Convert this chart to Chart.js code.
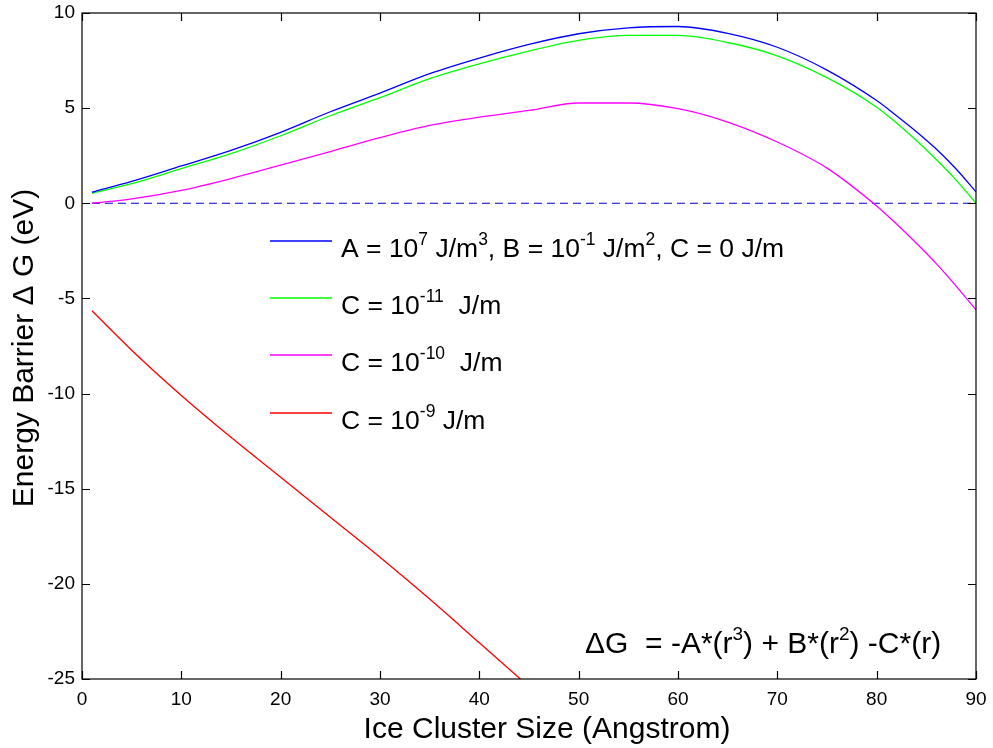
<!DOCTYPE html>
<html>
<head>
<meta charset="utf-8">
<script src="https://cdn.jsdelivr.net/npm/chart.js@4"></script>
<style>
  html, body { margin: 0; padding: 0; background: #fff; }
  #wrap { width: 993px; height: 748px; }
</style>
</head>
<body>
<div id="wrap"><canvas id="barrierChart" width="993" height="748"></canvas></div>
<script>
// values
var xValues       = [1, 5, 10, 15, 20, 25, 30, 35, 40, 45, 50, 55, 60, 65, 70, 75, 80, 82, 84, 86, 88, 90];
var blueValues    = [0.58, 1.15, 1.96, 2.78, 3.73, 4.81, 5.79, 6.81, 7.63, 8.35, 8.91, 9.22, 9.29, 8.93, 8.2, 7.0, 5.4, 4.6, 3.76, 2.85, 1.8, 0.6];
var greenValues   = [0.52, 1.03, 1.82, 2.61, 3.55, 4.6, 5.55, 6.55, 7.33, 8.0, 8.56, 8.82, 8.82, 8.45, 7.75, 6.6, 5.05, 4.22, 3.3, 2.3, 1.22, 0];
var magentaValues = [0.0, 0.23, 0.68, 1.3, 2.0, 2.72, 3.45, 4.09, 4.53, 4.88, 5.27, 5.27, 4.97, 4.27, 3.22, 1.85, -0.14, -1.09, -2.1, -3.17, -4.35, -5.6];
var redX          = [1, 5, 10, 15, 20, 25, 30, 35, 40, 45];
var redValues     = [-5.65, -7.72, -10.1, -12.3, -14.4, -16.5, -18.6, -20.8, -23.1, -25.4];
var zeroX         = [1, 90];
var zeroValues    = [0, 0];

var xTicks = [0, 10, 20, 30, 40, 50, 60, 70, 80, 90];
var yTicks = [-25, -20, -15, -10, -5, 0, 5, 10];

var xTitle = 'Ice Cluster Size (Angstrom)';
var yTitle = 'Energy Barrier \u0394 G (eV)';

// legend text, [text, isSuperscript]
var legendBlue    = [['A = 10', 0], ['7', 1], [' J/m', 0], ['3', 1], [', B = 10', 0], ['-1', 1], [' J/m', 0], ['2', 1], [', C = 0 J/m', 0]];
var legendGreen   = [['C = 10', 0], ['-11', 1], ['  J/m', 0]];
var legendMagenta = [['C = 10', 0], ['-10', 1], ['  J/m', 0]];
var legendRed     = [['C = 10', 0], ['-9', 1], [' J/m', 0]];
var formulaText   = [['\u0394G  = -A*(r', 0], ['3', 1], [') + B*(r', 0], ['2', 1], [') -C*(r)', 0]];

var FONT = '"Liberation Sans", Arial, Helvetica, sans-serif';

function pts(xs, ys) {
    var out = [];
    for (let i = 0; i < xs.length; i++) out.push({x: xs[i], y: ys[i]});
    return out;
}

function drawRich(ctx, parts, x, y, size, supSize) {
    ctx.textAlign = 'left';
    ctx.textBaseline = 'alphabetic';
    for (let i = 0; i < parts.length; i++) {
        var sup = parts[i][1];
        ctx.font = (sup ? supSize : size) + 'px ' + FONT;
        ctx.fillText(parts[i][0], x, sup ? y - size * 0.42 : y);
        x += ctx.measureText(parts[i][0]).width;
    }
}

var decorPlugin = {
    id: 'decor',
    afterDraw: function(chart) {
        var ctx = chart.ctx;
        var a = chart.chartArea;
        var xs = chart.scales.x, ys = chart.scales.y;
        ctx.save();
        ctx.strokeStyle = '#000';
        ctx.lineWidth = 1.2;
        ctx.strokeRect(a.left, a.top, a.right - a.left, a.bottom - a.top);
        // inward ticks like matlab
        ctx.beginPath();
        xTicks.forEach(function(v) {
            var px = Math.round(xs.getPixelForValue(v)) + 0.5;
            ctx.moveTo(px, a.bottom); ctx.lineTo(px, a.bottom - 8);
            ctx.moveTo(px, a.top); ctx.lineTo(px, a.top + 8);
        });
        yTicks.forEach(function(v) {
            var py = Math.round(ys.getPixelForValue(v)) + 0.5;
            ctx.moveTo(a.left, py); ctx.lineTo(a.left + 8, py);
            ctx.moveTo(a.right, py); ctx.lineTo(a.right - 8, py);
        });
        ctx.stroke();

        // legend
        var rows = [legendBlue, legendGreen, legendMagenta, legendRed];
        var rowY = [241, 298, 355, 413];
        ctx.fillStyle = '#000';
        for (let i = 0; i < rows.length; i++) {
            ctx.strokeStyle = chart.data.datasets[i].borderColor;
            ctx.lineWidth = 1.3;
            ctx.beginPath();
            ctx.moveTo(270, rowY[i]); ctx.lineTo(332, rowY[i]);
            ctx.stroke();
            drawRich(ctx, rows[i], 341, rowY[i] + 15.5, 26.5, 17.5);
        }

        drawRich(ctx, formulaText, 585, 653, 30, 19);

        // axis titles
        ctx.font = '30px ' + FONT;
        ctx.textAlign = 'center';
        ctx.textBaseline = 'alphabetic';
        ctx.fillText(xTitle, 547, 738);
        ctx.translate(33, 348);
        ctx.rotate(-Math.PI / 2);
        ctx.fillText(yTitle, 0, 0);
        ctx.restore();
    }
};

var ctx = document.getElementById('barrierChart');
var barrierChart = new Chart(ctx, {
    type: 'line',
    data: {
        datasets: [
            { label: 'A = 10^7 J/m^3, B = 10^-1 J/m^2, C = 0 J/m', data: pts(xValues, blueValues), borderColor: '#0000ff' },
            { label: 'C = 10^-11 J/m', data: pts(xValues, greenValues), borderColor: '#00ff00' },
            { label: 'C = 10^-10 J/m', data: pts(xValues, magentaValues), borderColor: '#ff00ff' },
            { label: 'C = 10^-9 J/m', data: pts(redX, redValues), borderColor: '#ff0000' },
            { label: 'zero', data: pts(zeroX, zeroValues), borderColor: '#0000cc', borderDash: [8, 5], borderWidth: 1.1 }
        ]
    },
    options: {
        responsive: false,
        animation: false,
        layout: { padding: { top: 13, right: 17, left: 0, bottom: 0 } },
        elements: {
            point: { radius: 0 },
            line: { borderWidth: 1.3, cubicInterpolationMode: 'monotone', fill: false }
        },
        plugins: { legend: { display: false }, tooltip: { enabled: false } },
        scales: {
            x: {
                type: 'linear', min: 0, max: 90,
                grid: { display: false, drawTicks: false, tickLength: 0 },
                border: { display: false },
                afterBuildTicks: function(scale) { scale.ticks = xTicks.map(v => ({value: v})); },
                afterFit: function(scale) {
                    scale.height = 69;
                    scale.paddingLeft = 0; scale.paddingRight = 0;
                },
                ticks: { color: '#000', font: { family: FONT, size: 19 }, padding: 9, maxRotation: 0, autoSkip: false }
            },
            y: {
                type: 'linear', min: -25, max: 10,
                grid: { display: false, drawTicks: false, tickLength: 0 },
                border: { display: false },
                afterBuildTicks: function(scale) { scale.ticks = yTicks.map(v => ({value: v})); },
                afterFit: function(scale) {
                    scale.width = 82;
                    scale.paddingTop = 0; scale.paddingBottom = 0;
                },
                ticks: { color: '#000', font: { family: FONT, size: 19 }, padding: 7, autoSkip: false }
            }
        }
    },
    plugins: [decorPlugin]
});
</script>
</body>
</html>
